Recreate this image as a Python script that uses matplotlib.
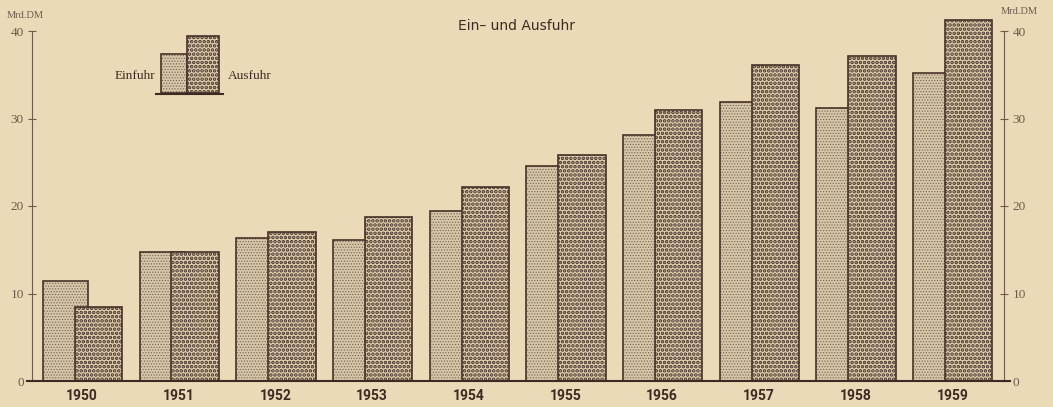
import numpy as np
import matplotlib.pyplot as plt
from matplotlib.patches import Rectangle

# Werte in Mrd. DM
jahre = ['1950', '1951', '1952', '1953', '1954', '1955', '1956', '1957', '1958', '1959']
einfuhr = [11.4, 14.8, 16.4, 16.1, 19.4, 24.6, 28.1, 31.9, 31.2, 35.2]
ausfuhr = [8.5, 14.7, 17.0, 18.7, 22.2, 25.8, 31.0, 36.1, 37.1, 41.3]
y_ticks = [0, 10, 20, 30, 40]

papier = '#ebdab7'
braun = '#4a3128'
grau = '#6e5a4e'

ein_face, ein_dot = '#d6c7a8', '#7a6656'
aus_face, aus_dot = '#e0d0ae', '#45302a'

W, H = 1053, 407
fig = plt.figure(figsize=(W / 100, H / 100), dpi=100)
fig.patch.set_facecolor(papier)

# Achse: links x=32px, rechts x=1004px, y=0 bei 381px, 8.75px je Einheit
y_top = 43
ax = fig.add_axes([32 / W, (H - 381) / H, (1004 - 32) / W, y_top * 8.75 / H])
ax.set_facecolor('none')

x = np.arange(len(jahre))
off = 0.17

# Einfuhr: feines Raster
with plt.rc_context({'hatch.linewidth': 0.55}):
    ax.bar(x - off, einfuhr, width=0.47, color=ein_face, edgecolor=ein_dot,
           hatch='......', linewidth=0, zorder=2)
ax.bar(x - off, einfuhr, width=0.47, facecolor='none', edgecolor=braun,
       linewidth=1.2, zorder=3)

# Ausfuhr: grobe Punkte, liegt vorne
with plt.rc_context({'hatch.linewidth': 1.8}):
    ax.bar(x + off, ausfuhr, width=0.49, color=aus_face, edgecolor=aus_dot,
           hatch='....', linewidth=0, zorder=4)
ax.bar(x + off, ausfuhr, width=0.49, facecolor='none', edgecolor=braun,
       linewidth=1.2, zorder=5)

ax.set_xlim(-0.517, 9.535)
ax.set_ylim(0, y_top)
ax.set_xticks(x)
ax.set_xticklabels(jahre, family=['Liberation Sans Narrow', 'Roboto'],
                   fontweight='bold', fontsize=10, color='#3d2a22')
ax.tick_params(axis='x', length=0, pad=6)

ax.set_yticks(y_ticks)
ax.set_yticklabels([str(v) for v in y_ticks], family='Liberation Serif',
                   fontsize=9.5, color=grau)
ax.tick_params(axis='y', direction='inout', length=6, width=0.8, color=grau,
               right=True, labelright=True, pad=3)

for s in ['left', 'right']:
    ax.spines[s].set_bounds(0, 40)
    ax.spines[s].set_color(grau)
    ax.spines[s].set_linewidth(0.8)
ax.spines['top'].set_visible(False)
ax.spines['bottom'].set_visible(False)
ax.axhline(0, xmin=-0.005, xmax=1.006, color='#3d2a22', linewidth=1.5,
           clip_on=False, zorder=6)

# Beschriftungen
fig.text(517 / W, 1 - 26 / H, 'Ein\u2013 und Ausfuhr', ha='center', va='center',
         fontsize=10, color='#3d2a22', family='DejaVu Sans')
fig.text(25 / W, 1 - 16 / H, 'Mrd.DM', ha='center', va='center',
         fontsize=7.5, color=grau, family='Liberation Serif')
fig.text(1019 / W, 1 - 12 / H, 'Mrd.DM', ha='center', va='center',
         fontsize=7.5, color=grau, family='Liberation Serif')

# Legende als kleine Stufe
def px(xp, yp):
    return xp / W, 1 - yp / H

lx, ly = px(161, 93)
with plt.rc_context({'hatch.linewidth': 0.55}):
    r1 = Rectangle((lx, ly), 26 / W, 39 / H, transform=fig.transFigure,
                   facecolor=ein_face, edgecolor=ein_dot, hatch='......', linewidth=0)
fig.patches.append(r1)
fig.patches.append(Rectangle((lx, ly), 26 / W, 39 / H, transform=fig.transFigure,
                             facecolor='none', edgecolor=braun, linewidth=1.2))
lx2, _ = px(187, 93)
with plt.rc_context({'hatch.linewidth': 1.8}):
    r2 = Rectangle((lx2, ly), 32 / W, 57 / H, transform=fig.transFigure,
                   facecolor=aus_face, edgecolor=aus_dot, hatch='....', linewidth=0)
fig.patches.append(r2)
fig.patches.append(Rectangle((lx2, ly), 32 / W, 57 / H, transform=fig.transFigure,
                             facecolor='none', edgecolor=braun, linewidth=1.2))
fig.add_artist(plt.Line2D([156 / W, 223 / W], [1 - 94 / H, 1 - 94 / H],
                          transform=fig.transFigure, color='#3d2a22', linewidth=1.5))
fig.text(155 / W, 1 - 76 / H, 'Einfuhr', ha='right', va='center',
         fontsize=9.5, color='#3d2a22', family='Liberation Serif')
fig.text(228 / W, 1 - 76 / H, 'Ausfuhr', ha='left', va='center',
         fontsize=9.5, color='#3d2a22', family='Liberation Serif')

fig.savefig('out.png', dpi=100, facecolor=papier)
